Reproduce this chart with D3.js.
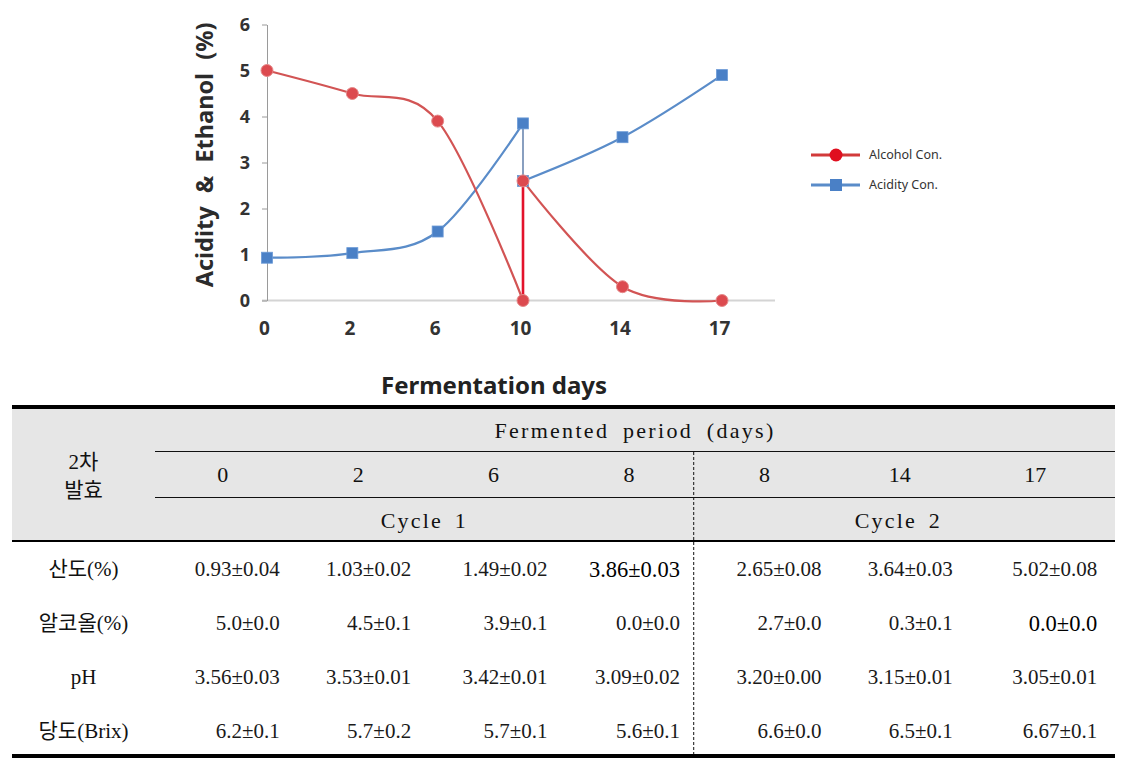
<!DOCTYPE html>
<html><head><meta charset="utf-8">
<script src="https://cdn.jsdelivr.net/npm/d3@7"></script>
<style>body{margin:0;background:#fff}</style>
</head><body><svg id="c" width="1138" height="760"></svg>
<script>
// ---------- chart data ----------
const days = ["0", "2", "6", "10", "14", "17"];
const cycle1Index = [0, 1, 2, 3];      // days 0,2,6,10
const cycle2Index = [3, 4, 5];         // days 10,14,17
const alcoholCycle1 = [5.0, 4.5, 3.9, 0.0];
const alcoholCycle2 = [2.6, 0.3, 0.0];
const acidityCycle1 = [0.93, 1.03, 1.5, 3.85];
const acidityCycle2 = [2.6, 3.55, 4.9];
const yTicks = [0, 1, 2, 3, 4, 5, 6];
const seriesNames = ["Alcohol Con.", "Acidity Con."];

// ---------- table data ----------
const tableTitle = "Fermented period (days)";
const tableCorner = ["2차", "발효"];
const tableDays = ["0", "2", "6", "8", "8", "14", "17"];
const cycleLabels = ["Cycle 1", "Cycle 2"];
const rowLabels = ["산도(%)", "알코올(%)", "pH", "당도(Brix)"];
const acidityRow = ["0.93±0.04", "1.03±0.02", "1.49±0.02", "3.86±0.03", "2.65±0.08", "3.64±0.03", "5.02±0.08"];
const alcoholRow = ["5.0±0.0", "4.5±0.1", "3.9±0.1", "0.0±0.0", "2.7±0.0", "0.3±0.1", "0.0±0.0"];
const phRow = ["3.56±0.03", "3.53±0.01", "3.42±0.01", "3.09±0.02", "3.20±0.00", "3.15±0.01", "3.05±0.01"];
const brixRow = ["6.2±0.1", "5.7±0.2", "5.7±0.1", "5.6±0.1", "6.6±0.0", "6.5±0.1", "6.67±0.1"];
const tableRows = [acidityRow, alcoholRow, phRow, brixRow];

const svg = d3.select("#c");
svg.append("rect").attr("width", 1138).attr("height", 760).attr("fill", "#fff");

// ---------- chart ----------
const RED = "#d25454", RED_M = "#dc4a4f", RED_V = "#e3122b";
const BLUE = "#5a8cc9", BLUE_M = "#4a80c6";
const x = d3.scaleLinear().domain([0, 3, 5]).range([267, 523, 722]);
const y = d3.scaleLinear().domain([0, 6]).range([300.5, 24.5]);
const g = svg.append("g");
const chartFont = "'Noto Sans', 'Open Sans', sans-serif";

// x axis line
g.append("line").attr("x1", x(0) - 5).attr("x2", 775).attr("y1", y(0)).attr("y2", y(0))
  .attr("stroke", "#d4d4d4").attr("stroke-width", 2);

// y axis
const ya = g.append("g").attr("transform", `translate(${x(0)},0)`)
  .call(d3.axisLeft(y).tickValues(yTicks).tickFormat(d3.format("d")).tickSize(5).tickSizeOuter(0).tickPadding(12));
ya.select(".domain").attr("stroke", "#9a9a9a");
ya.selectAll(".tick line").attr("stroke", "#9a9a9a");
ya.selectAll(".tick text").attr("font-family", chartFont).attr("font-weight", "bold")
  .attr("font-size", 18).attr("fill", "#333");

// x tick labels
const xa = g.append("g").attr("transform", `translate(-3,${y(0)})`)
  .call(d3.axisBottom(x).tickValues(d3.range(days.length)).tickFormat(i => days[i]).tickSize(0).tickPadding(21));
xa.select(".domain").remove();
xa.selectAll(".tick text").attr("font-family", chartFont).attr("font-weight", "bold")
  .attr("font-size", 19).attr("fill", "#333");

// axis titles
g.append("text").attr("transform", `translate(213,155) rotate(-90)`).attr("text-anchor", "middle")
  .attr("font-family", chartFont).attr("font-weight", "bold").attr("font-size", 23.5)
  .attr("fill", "#2b2b2b").attr("word-spacing", 7).text("Acidity & Ethanol (%)");
g.append("text").attr("x", 494).attr("y", 394).attr("text-anchor", "middle")
  .attr("font-family", chartFont).attr("font-weight", "bold").attr("font-size", 24)
  .attr("fill", "#222").text("Fermentation days");

const line = d3.line().x(d => x(d[0])).y(d => y(d[1])).curve(d3.curveCardinal.tension(0));
const zipS = (idx, vals) => idx.map((i, k) => [i, vals[k]]);
const acid1 = zipS(cycle1Index, acidityCycle1), acid2 = zipS(cycle2Index, acidityCycle2);
const alc1 = zipS(cycle1Index, alcoholCycle1), alc2 = zipS(cycle2Index, alcoholCycle2);

// acidity series
[acid1, acid2].forEach(s => g.append("path").attr("d", line(s)).attr("fill", "none")
  .attr("stroke", BLUE).attr("stroke-width", 2.2));
g.append("line").attr("x1", x(3)).attr("x2", x(3))
  .attr("y1", y(acidityCycle1[3])).attr("y2", y(acidityCycle2[0]))
  .attr("stroke", "#6b87b0").attr("stroke-width", 1.6);
// alcohol series
[alc1, alc2].forEach(s => g.append("path").attr("d", line(s)).attr("fill", "none")
  .attr("stroke", RED).attr("stroke-width", 2.2));
g.append("line").attr("x1", x(3)).attr("x2", x(3))
  .attr("y1", y(alcoholCycle1[3])).attr("y2", y(alcoholCycle2[0]))
  .attr("stroke", RED_V).attr("stroke-width", 2.6);

// markers
g.selectAll(".sq").data(acid1.concat(acid2)).join("rect")
  .attr("x", d => x(d[0]) - 5.5).attr("y", d => y(d[1]) - 5.5).attr("width", 11).attr("height", 11)
  .attr("fill", BLUE_M).attr("stroke", "#6b9ad6").attr("stroke-width", 0.8);
g.selectAll(".ci").data(alc1.concat(alc2)).join("circle")
  .attr("cx", d => x(d[0])).attr("cy", d => y(d[1])).attr("r", 6)
  .attr("fill", RED_M).attr("stroke", "#e58a8a").attr("stroke-width", 1);

// legend
const lg = g.append("g").attr("transform", "translate(811,155)");
seriesNames.forEach((name, i) => {
  const r = lg.append("g").attr("transform", `translate(0,${i * 30})`);
  r.append("line").attr("x1", 0).attr("x2", 49).attr("stroke", i ? BLUE : "#d23a3a").attr("stroke-width", 3);
  if (i) r.append("rect").attr("x", 19).attr("y", -6).attr("width", 12).attr("height", 12).attr("fill", BLUE_M);
  else r.append("circle").attr("cx", 25).attr("r", 6.5).attr("fill", "#e00f1f");
  r.append("text").attr("x", 58).attr("dy", "0.35em").attr("font-family", chartFont)
    .attr("font-size", 12.5).attr("fill", "#333").text(name);
});

// ---------- table ----------
const T = svg.append("g");
const serif = "'Liberation Serif', 'Noto Sans CJK KR', serif";
const L = 12, R = 1115;
const col = d3.scaleBand().domain(d3.range(tableDays.length)).range([155, 1103]);
const rowY = d3.scalePoint().domain(rowLabels).range([569, 731]);
const labelX = (L + 155) / 2;

T.append("rect").attr("x", L).attr("y", 409).attr("width", R - L).attr("height", 131).attr("fill", "#e6e6e6");
T.append("rect").attr("x", L).attr("y", 405).attr("width", R - L).attr("height", 4).attr("fill", "#000");
T.append("rect").attr("x", L).attr("y", 754).attr("width", R - L).attr("height", 4).attr("fill", "#000");
T.append("rect").attr("x", L).attr("y", 540).attr("width", R - L).attr("height", 2).attr("fill", "#000");
[451.5, 497.5].forEach(yy => T.append("line").attr("x1", 155).attr("x2", R).attr("y1", yy).attr("y2", yy)
  .attr("stroke", "#111").attr("stroke-width", 1));
const divX = col(4) - 3;
T.append("line").attr("x1", divX).attr("x2", divX).attr("y1", 452).attr("y2", 754)
  .attr("stroke", "#111").attr("stroke-width", 1).attr("stroke-dasharray", "3,2");

const txt = (xx, yy, s, opts = {}) => T.append("text").attr("x", xx).attr("y", yy)
  .attr("dy", "0.35em").attr("text-anchor", opts.anchor || "middle")
  .attr("font-family", opts.font || serif).attr("font-size", opts.size || 21)
  .attr("fill", opts.fill || "#111").attr("letter-spacing", opts.ls || 0)
  .attr("word-spacing", opts.ws || 0).text(s);

txt((155 + R) / 2, 430, tableTitle, {size: 22, ls: 2.3, ws: 6});
tableCorner.forEach((s, i) => txt(labelX, 462 + i * 28, s, {size: 21}));
tableDays.forEach((d, i) => txt(col(i) + col.bandwidth() / 2, 474, d, {size: 22}));
cycleLabels.forEach((c, i) => txt(i ? (divX + 1103) / 2 : (155 + divX) / 2, 520, c, {size: 22, ls: 2.2, ws: 4}));

const valueShift = [57, 53, 54, 51, 57, 53, 62];
rowLabels.forEach((lab, r) => {
  txt(labelX, rowY(lab), lab, {size: 21});
  tableRows[r].forEach((v, c) => {
    const strong = (r === 0 && c === 3) || (r === 1 && c === 6);
    txt(col(c) + col.bandwidth() / 2 + valueShift[c], rowY(lab), v,
      {anchor: "end", size: strong ? 22.5 : 21, fill: strong ? "#000" : "#1a1a1a"});
  });
});
</script></body></html>
